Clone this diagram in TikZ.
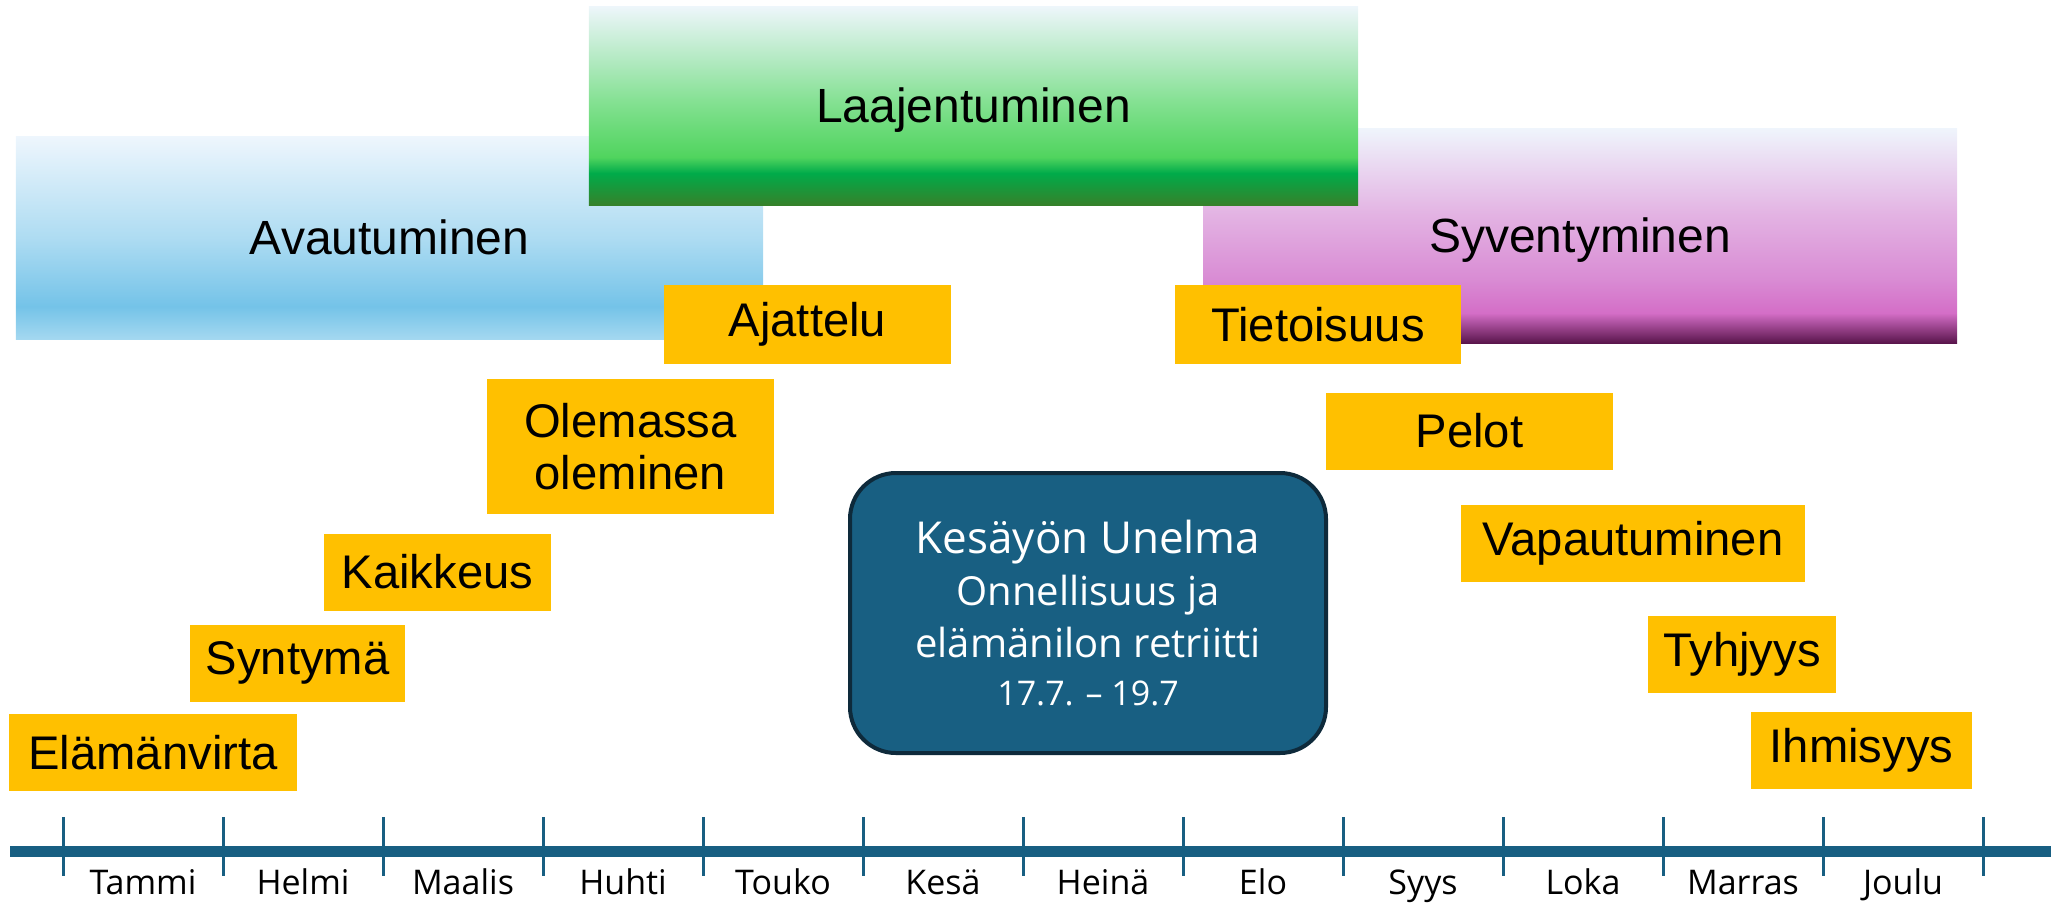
\documentclass[tikz,border=0pt]{standalone}
\usepackage{fontspec}
\setmainfont{Liberation Sans}
\newfontfamily\retreatfont{Open Sans}

\definecolor{stageorange}{HTML}{FFC000}
\definecolor{lineblue}{HTML}{185F82}
\definecolor{retreatblue}{HTML}{185F82}
\definecolor{retreatedge}{HTML}{0E2A3B}

\definecolor{blueA}{HTML}{A4D8F0}
\definecolor{blueB}{HTML}{74C3E8}
\definecolor{blueC}{HTML}{AEDCF2}
\definecolor{blueD}{HTML}{EEF6FD}
\definecolor{greenA}{HTML}{36812A}
\definecolor{greenB}{HTML}{00AB4A}
\definecolor{greenC}{HTML}{50D45E}
\definecolor{greenD}{HTML}{80E08E}
\definecolor{greenE}{HTML}{B5EAC4}
\definecolor{greenF}{HTML}{EEF6FB}
\definecolor{purpleA}{HTML}{5A154C}
\definecolor{purpleB}{HTML}{D46EC7}
\definecolor{purpleC}{HTML}{D98CD4}
\definecolor{purpleD}{HTML}{E3B3E3}
\definecolor{purpleE}{HTML}{EFF5FC}

% vertical fades: 25bp = bottom edge, 75bp = top edge
\pgfdeclareverticalshading{bluefade}{100bp}{%
  color(0bp)=(blueA); color(25bp)=(blueA);
  color(33bp)=(blueB); color(50bp)=(blueC);
  color(75bp)=(blueD); color(100bp)=(blueD)}
\pgfdeclareverticalshading{greenfade}{100bp}{%
  color(0bp)=(greenA); color(25bp)=(greenA);
  color(33bp)=(greenB); color(37bp)=(greenC);
  color(50bp)=(greenD); color(62bp)=(greenE);
  color(75bp)=(greenF); color(100bp)=(greenF)}
\pgfdeclareverticalshading{purplefade}{100bp}{%
  color(0bp)=(purpleA); color(25bp)=(purpleA);
  color(32bp)=(purpleB); color(40bp)=(purpleC);
  color(55bp)=(purpleD); color(75bp)=(purpleE);
  color(100bp)=(purpleE)}

\tikzset{
  stage/.style={fill=stageorange, inner sep=0pt, minimum height=38.5bp,
    align=center, font=\fontsize{23.6bp}{26bp}\selectfont},
  band/.style={inner sep=0pt, text height=17.2bp, text depth=0pt,
    font=\fontsize{24bp}{26bp}\selectfont},
  month/.style={inner sep=0pt, anchor=base, font=\retreatfont\fontsize{17bp}{20bp}\selectfont},
}

\begin{document}
\begin{tikzpicture}[x=0.5bp,y=-0.5bp]
  \useasboundingbox (0,0) rectangle (2051,905);

  % phases
  \node[band, shading=bluefade, minimum width=373.5bp, minimum height=101.5bp] (avau) at (389.5,237.5) {Avautuminen};
  \node[band, shading=purplefade, minimum width=377bp, minimum height=107.5bp] (syve) at (1580,235.5) {Syventyminen};
  \node[band, shading=greenfade, minimum width=384.5bp, minimum height=99.5bp] (laaj) at (973.5,105.5) {Laajentuminen};

  % stages
  \node[stage, minimum width=144bp] (elam) at (153,752.5) {Elämänvirta};
  \node[stage, minimum width=107.5bp] (synt) at (297.5,663) {Syntymä};
  \node[stage, minimum width=113.5bp] (kaik) at (437.5,572) {Kaikkeus};
  \node[stage, minimum width=143.5bp, minimum height=67.5bp] (olem) at (630.5,446.5) {Olemassa\\oleminen};
  \node[stage, minimum width=143.5bp, minimum height=39.5bp] (ajat) at (807.5,324.5) {Ajattelu};
  \node[stage, minimum width=143bp, minimum height=39.5bp] (tiet) at (1318,324.5) {Tietoisuus};
  \node[stage, minimum width=143.5bp] (pelo) at (1469.5,431) {Pelot};
  \node[stage, minimum width=172bp] (vapa) at (1633,543.5) {Vapautuminen};
  \node[stage, minimum width=94bp] (tyhj) at (1742,654.5) {Tyhjyys};
  \node[stage, minimum width=110.5bp] (ihmi) at (1861.5,750.5) {Ihmisyys};

  % retreat
  \node[draw=retreatedge, line width=2bp, fill=retreatblue, rounded corners=23bp,
        minimum width=238bp, minimum height=140bp, text=white, align=center,
        font=\retreatfont\fontsize{20bp}{26bp}\selectfont] (retr) at (1088,613)
    {{\fontsize{22bp}{27bp}\selectfont Kesäyön Unelma}\\
     Onnellisuus ja\\
     elämänilon retriitti\\[-2bp]
     {\fontsize{17bp}{22bp}\selectfont 17.7. – 19.7}};

  % timeline
  \coordinate (tstart) at (10,851);
  \coordinate (tend) at (2051,851);
  \draw[lineblue, line width=5.5bp] (tstart) -- (tend);
  \foreach \x in {63,223,383,543,703,863,1023,1183,1343,1503,1663,1823,1983}
    \draw[lineblue, line width=1.5bp] (\x,817) -- (\x,876);

  \node[month] (m1) at (143,894) {Tammi};
  \node[month] (m2) at (303,894) {Helmi};
  \node[month] (m3) at (463,894) {Maalis};
  \node[month] (m4) at (623,894) {Huhti};
  \node[month] (m5) at (783,894) {Touko};
  \node[month] (m6) at (943,894) {Kesä};
  \node[month] (m7) at (1103,894) {Heinä};
  \node[month] (m8) at (1263,894) {Elo};
  \node[month] (m9) at (1423,894) {Syys};
  \node[month] (m10) at (1583,894) {Loka};
  \node[month] (m11) at (1743,894) {Marras};
  \node[month] (m12) at (1903,894) {Joulu};
\end{tikzpicture}
\end{document}
